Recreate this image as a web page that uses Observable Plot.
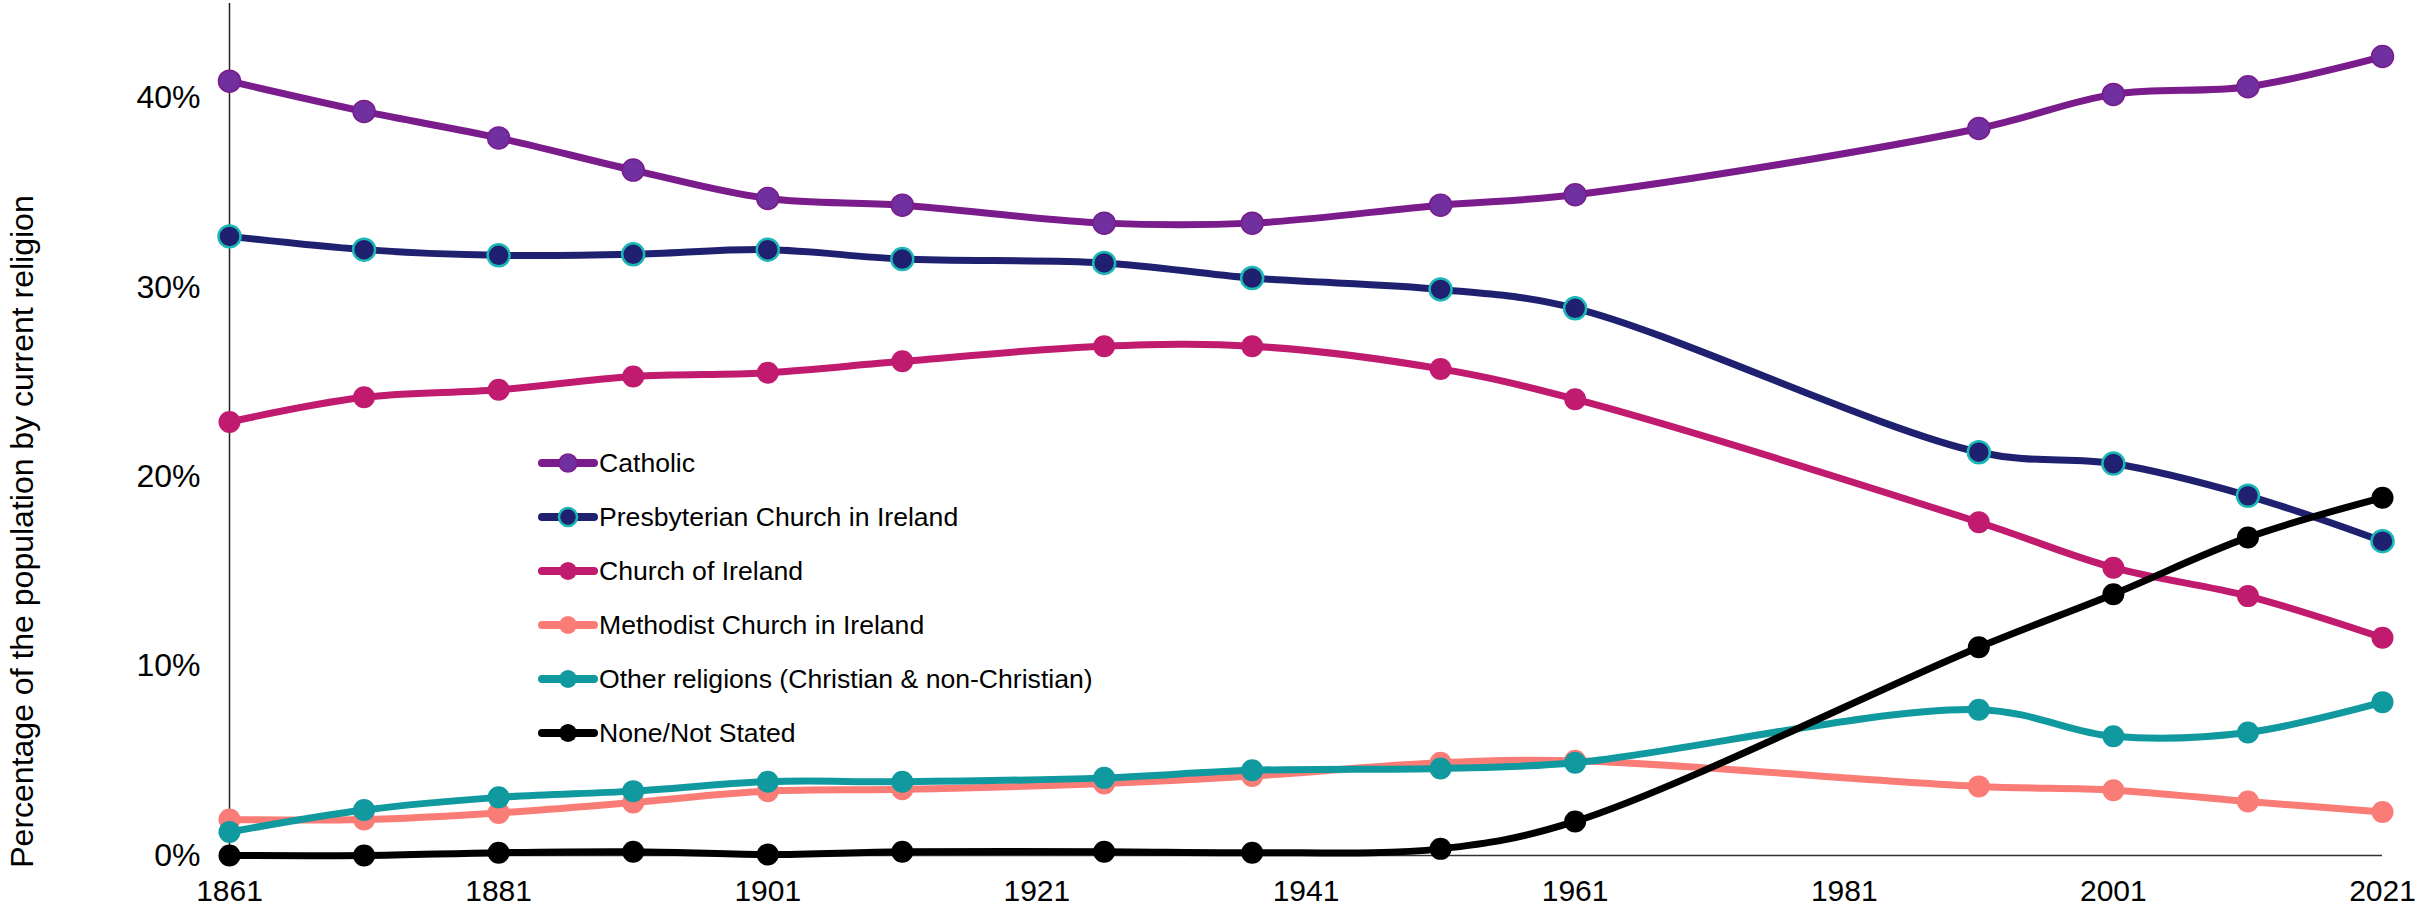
<!DOCTYPE html>
<html>
<head>
<meta charset="utf-8">
<script src="https://cdn.jsdelivr.net/npm/d3@7"></script>
<script src="https://cdn.jsdelivr.net/npm/@observablehq/plot@0.6"></script>
<style>
  html, body { margin: 0; padding: 0; background: #fff; }
  #wrap { position: relative; width: 2417px; height: 908px; font-family: "Liberation Sans", Arial, sans-serif; }
  #legend { position: absolute; left: 538px; top: 436px; }
  .row { display: flex; align-items: center; height: 54px; font-size: 26.6px; color: #000; white-space: nowrap; }
  .row svg { display: block; margin-right: 1px; }
</style>
</head>
<body>
<div id="wrap"><div id="legend"></div></div>
<script>
const years = [1861, 1871, 1881, 1891, 1901, 1911, 1926, 1937, 1951, 1961, 1991, 2001, 2011, 2021];
const seriesNames = ["Catholic", "Presbyterian Church in Ireland", "Church of Ireland", "Methodist Church in Ireland", "Other religions (Christian & non-Christian)", "None/Not Stated"];
const catholic     = [40.9, 39.3, 37.9, 36.2, 34.7, 34.35, 33.4, 33.4, 34.35, 34.9, 38.4, 40.2, 40.6, 42.2];
const presbyterian = [32.7, 32.0, 31.7, 31.75, 32.0, 31.5, 31.3, 30.5, 29.9, 28.9, 21.3, 20.7, 19.0, 16.6];
const churchOfIreland = [22.9, 24.2, 24.6, 25.3, 25.5, 26.1, 26.9, 26.9, 25.7, 24.1, 17.6, 15.2, 13.7, 11.5];
const methodist    = [1.9, 1.9, 2.25, 2.8, 3.4, 3.5, 3.8, 4.2, 4.9, 5.0, 3.65, 3.45, 2.85, 2.3];
const otherReligions = [1.24, 2.4, 3.07, 3.4, 3.9, 3.9, 4.1, 4.5, 4.6, 4.9, 7.7, 6.3, 6.5, 8.1];
const noneNotStated = [0, 0, 0.15, 0.2, 0.05, 0.2, 0.2, 0.15, 0.35, 1.8, 11.0, 13.8, 16.8, 18.9];
const yTicks = [0, 10, 20, 30, 40];
const xTicks = [1861, 1881, 1901, 1921, 1941, 1961, 1981, 2001, 2021];
const yTitle = "Percentage of the population by current religion";

const lineColors = ["#7a1c8b", "#1f2170", "#c01b6e", "#fa7c76", "#10999f", "#000000"];
const dotFills   = ["#7030a0", "#1f2170", "#c01b6e", "#fa7c76", "#10999f", "#000000"];
const dotStrokes = ["#7a1c8b", "#1bb8b5", "#c01b6e", "#fa7c76", "#10999f", "#000000"];
const dotStrokeW = [1.5, 2.5, 0, 0, 0, 0];

const allValues = [catholic, presbyterian, churchOfIreland, methodist, otherReligions, noneNotStated];
const marks = [
  Plot.ruleY([0], {stroke: "#333", strokeWidth: 1.3}),
  Plot.ruleX([1861], {stroke: "#222", strokeWidth: 1.5}),
  Plot.axisY({ticks: yTicks, tickSize: 0, tickPadding: 29, tickFormat: d => d + "%", fontSize: 32, label: null}),
  Plot.axisX({ticks: xTicks, tickSize: 0, tickPadding: 24, tickFormat: d => String(d), fontSize: 30, label: null}),
  Plot.text([yTitle], {frameAnchor: "left", rotate: -90, dx: -207, dy: 102, fontSize: 32, textAnchor: "middle", fill: "#000"})
];
allValues.forEach((vals, i) => {
  const data = years.map((yr, j) => ({year: yr, value: vals[j]}));
  marks.push(Plot.line(data, {x: "year", y: "value", stroke: lineColors[i], strokeWidth: 7, curve: "catmull-rom"}));
  marks.push(Plot.dot(data, {x: "year", y: "value", r: 11, fill: dotFills[i], stroke: dotStrokes[i], strokeWidth: dotStrokeW[i]}));
});

const chart = Plot.plot({
  width: 2417,
  height: 908,
  marginLeft: 229,
  marginRight: 35,
  marginTop: 3,
  marginBottom: 53,
  style: {fontFamily: "'Liberation Sans', Arial, sans-serif", color: "#000", background: "#fff"},
  x: {domain: [1861, 2021]},
  y: {domain: [0, 45]},
  marks
});
const wrap = document.getElementById("wrap");
wrap.insertBefore(chart, wrap.firstChild);

const legend = document.getElementById("legend");
seriesNames.forEach((name, i) => {
  const row = document.createElement("div");
  row.className = "row";
  const ns = "http://www.w3.org/2000/svg";
  const sw = document.createElementNS(ns, "svg");
  sw.setAttribute("width", "60"); sw.setAttribute("height", "24");
  const ln = document.createElementNS(ns, "line");
  ln.setAttribute("x1", "4"); ln.setAttribute("x2", "56"); ln.setAttribute("y1", "12"); ln.setAttribute("y2", "12");
  ln.setAttribute("stroke", lineColors[i]); ln.setAttribute("stroke-width", "8"); ln.setAttribute("stroke-linecap", "round");
  const c = document.createElementNS(ns, "circle");
  c.setAttribute("cx", "30"); c.setAttribute("cy", "12"); c.setAttribute("r", "9");
  c.setAttribute("fill", dotFills[i]); c.setAttribute("stroke", dotStrokes[i]); c.setAttribute("stroke-width", String(dotStrokeW[i]));
  sw.appendChild(ln); sw.appendChild(c);
  const t = document.createElement("span");
  t.textContent = name;
  row.appendChild(sw); row.appendChild(t);
  legend.appendChild(row);
});
</script>
</body>
</html>
